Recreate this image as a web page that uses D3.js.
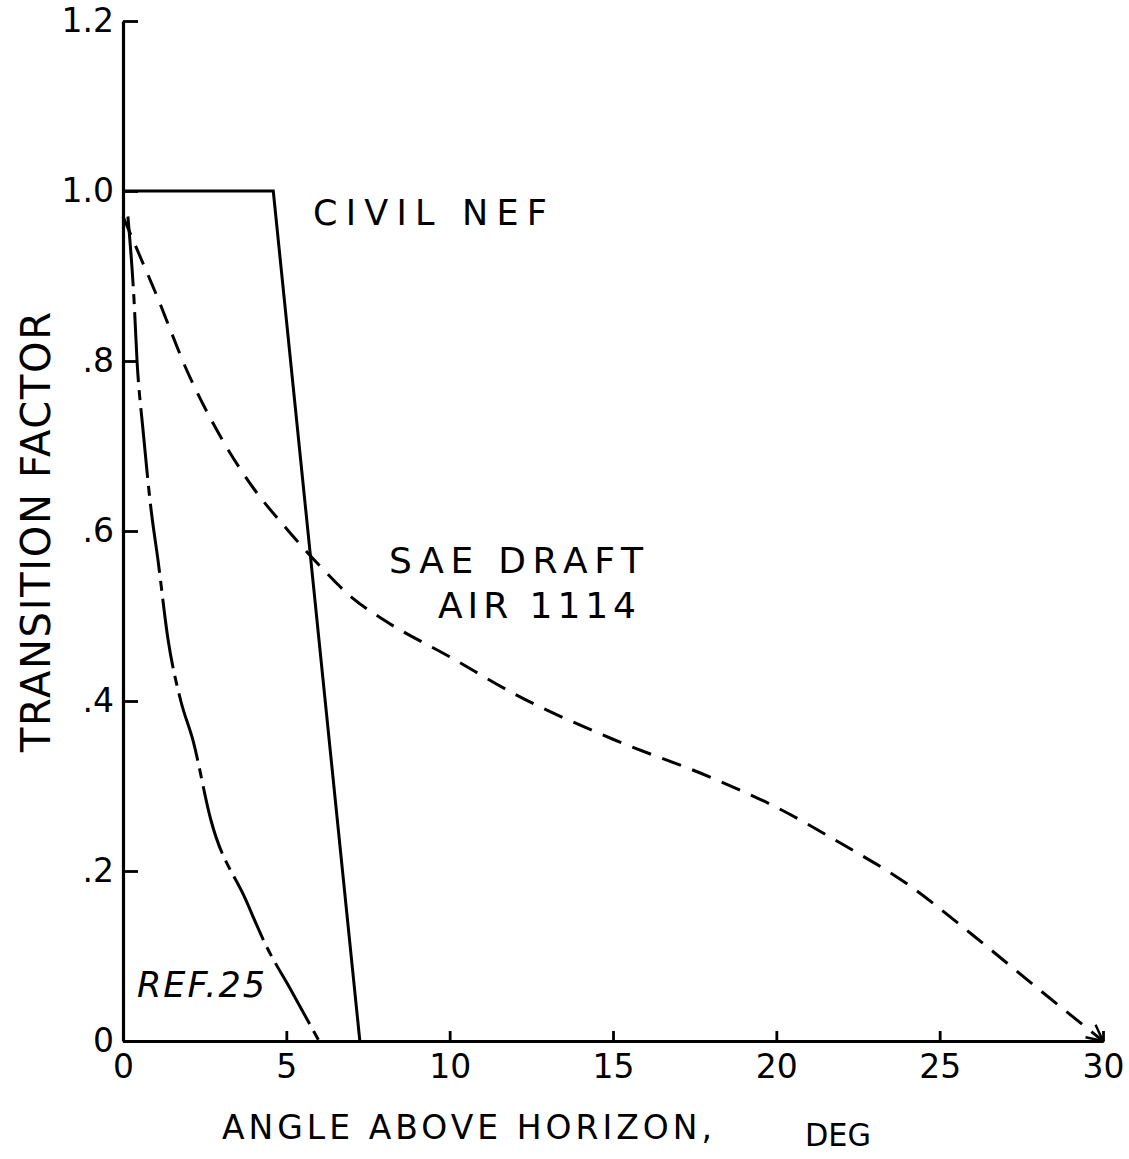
<!DOCTYPE html>
<html>
<head>
<meta charset="utf-8">
<script src="https://cdn.jsdelivr.net/npm/d3@7"></script>
<style>
  body { margin: 0; background: #fff; }
  svg text { font-family: "DejaVu Sans", "Liberation Sans", sans-serif; fill: #000; }
</style>
</head>
<body>
<svg id="myChart" width="1129" height="1159"></svg>
<script>
// tick values
let xTicks = [0, 5, 10, 15, 20, 25, 30];
let yTicks = [0, 0.2, 0.4, 0.6, 0.8, 1.0, 1.2];
let yTickLabels = ['0', '.2', '.4', '.6', '.8', '1.0', '1.2'];

// series (angle deg, transition factor)
let civilNef = [[0, 1.0], [4.6, 1.0], [7.25, 0]];
let saeDraft = [[0, 0.97], [0.5, 0.925], [1, 0.88], [2, 0.785], [3, 0.71], [4, 0.65],
	[5, 0.603], [6, 0.56], [7, 0.522], [8, 0.495], [10, 0.452], [12, 0.408],
	[15, 0.355], [18, 0.31], [20, 0.275], [22, 0.232], [24, 0.185], [26, 0.125],
	[28, 0.062], [30, 0]];
let ref25 = [[0.15, 0.97], [0.34, 0.87], [0.43, 0.8], [0.61, 0.72], [0.86, 0.625],
	[1.07, 0.566], [1.38, 0.472], [1.77, 0.4], [2.14, 0.354], [2.69, 0.26],
	[3.76, 0.166], [4.37, 0.113], [5.14, 0.06], [6.0, 0]];

let svg = d3.select('#myChart');

let xScale = d3.scaleLinear().domain([0, 30]).range([123, 1103]);
let yScale = d3.scaleLinear().domain([0, 1.2]).range([1041, 21]);

let line = d3.line()
	.x(d => xScale(d[0]))
	.y(d => yScale(d[1]));

// arrow head for the SAE curve end
svg.append('defs').append('marker')
	.attr('id', 'arrow')
	.attr('viewBox', '0 0 20 20')
	.attr('refX', 18).attr('refY', 10)
	.attr('markerWidth', 20).attr('markerHeight', 20)
	.attr('markerUnits', 'userSpaceOnUse')
	.attr('orient', 'auto')
	.append('path')
		.attr('d', 'M2,2 L18,10 L2,18')
		.attr('fill', 'none')
		.attr('stroke', '#000')
		.attr('stroke-width', 2.5);

// y axis, ticks point inward
let yAxis = svg.append('g')
	.attr('transform', `translate(${xScale(0)},0)`)
	.call(d3.axisLeft(yScale)
		.tickValues(yTicks)
		.tickFormat((d, i) => yTickLabels[i])
		.tickSizeInner(-15)
		.tickSizeOuter(0)
		.tickPadding(9));

// x axis, ticks point up
let xAxis = svg.append('g')
	.attr('transform', `translate(0,${yScale(0)})`)
	.call(d3.axisBottom(xScale)
		.tickValues(xTicks)
		.tickSizeInner(-10)
		.tickSizeOuter(0)
		.tickPadding(14));

[xAxis, yAxis].forEach(g => {
	g.select('.domain').attr('stroke-width', 3.2);
	g.selectAll('.tick line').attr('stroke-width', 2.8);
	g.selectAll('.tick text')
		.style('font-size', '33px')
		.attr('fill', '#000');
});
xAxis.selectAll('.tick').filter(d => d === 0).select('line').remove();

// curves
svg.append('path')
	.datum(civilNef)
	.attr('d', line)
	.attr('fill', 'none')
	.attr('stroke', '#000')
	.attr('stroke-width', 3);

svg.append('path')
	.datum(saeDraft)
	.attr('d', line.curve(d3.curveMonotoneX))
	.attr('fill', 'none')
	.attr('stroke', '#000')
	.attr('stroke-width', 3)
	.attr('stroke-dasharray', '20 12')
	.attr('marker-end', 'url(#arrow)');

svg.append('path')
	.datum(ref25)
	.attr('d', line.curve(d3.curveMonotoneX))
	.attr('fill', 'none')
	.attr('stroke', '#000')
	.attr('stroke-width', 3)
	.attr('stroke-dasharray', '70 8 10 8');

// labels
svg.append('text')
	.attr('x', 313).attr('y', 225)
	.attr('textLength', 234).attr('lengthAdjust', 'spacing')
	.style('font-size', '35px')
	.text('CIVIL NEF');

svg.append('text')
	.attr('x', 389).attr('y', 573)
	.attr('textLength', 254).attr('lengthAdjust', 'spacing')
	.style('font-size', '36px')
	.text('SAE DRAFT');

svg.append('text')
	.attr('x', 438).attr('y', 618)
	.attr('textLength', 198).attr('lengthAdjust', 'spacing')
	.style('font-size', '36px')
	.text('AIR 1114');

svg.append('text')
	.attr('x', 137).attr('y', 997)
	.attr('textLength', 128).attr('lengthAdjust', 'spacing')
	.style('font-size', '35px')
	.style('font-style', 'italic')
	.text('REF.25');

svg.append('text')
	.attr('transform', 'translate(50,752) rotate(-90)')
	.attr('textLength', 440).attr('lengthAdjust', 'spacing')
	.style('font-size', '40px')
	.text('TRANSITION FACTOR');

svg.append('text')
	.attr('x', 222).attr('y', 1139)
	.attr('textLength', 490).attr('lengthAdjust', 'spacing')
	.style('font-size', '33px')
	.text('ANGLE ABOVE HORIZON,');

svg.append('text')
	.attr('x', 805).attr('y', 1146)
	.attr('textLength', 66).attr('lengthAdjust', 'spacingAndGlyphs')
	.style('font-size', '32px')
	.text('DEG');
</script>
</body>
</html>
